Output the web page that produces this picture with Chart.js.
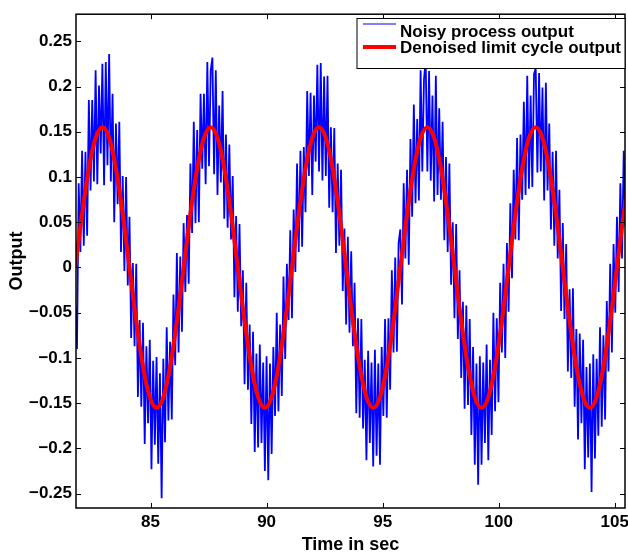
<!DOCTYPE html>
<html lang="en">
<head>
    <meta charset="UTF-8">
    <title>Noisy process output vs denoised limit cycle</title>
    <script src="https://cdn.jsdelivr.net/npm/chart.js"></script>
    <style>
        body {
            margin: 0;
            background: white;
        }
        canvas {
            display: block;
        }
    </style>
</head>
<body>
    <canvas id="cycleChart" width="628" height="558"></canvas>

    <script>
        // sampling grid (seconds)
        const noisyStart = 81.76;
        const noisyStep = 0.072917;
        const cycleStart = 81.76;
        const cycleStep = 0.29167;

        // noisy process output, 64 samples per limit cycle
        const noisyOutput = [
            -0.042, -0.090, 0.093, 0.017, 0.129, 0.024, 0.128, 0.035, 0.185, 0.085, 0.185, 0.095, 0.218, 0.092, 0.201, 0.126,
            0.225, 0.091, 0.227, 0.113, 0.236, 0.095, 0.192, 0.050, 0.159, 0.070, 0.161, 0.017, 0.101, -0.004, 0.100, -0.020,
            0.056, -0.078, 0.005, -0.087, 0.004, -0.143, -0.058, -0.154, -0.061, -0.195, -0.087, -0.172, -0.080, -0.223, -0.103, -0.196,
            -0.099, -0.217, -0.117, -0.255, -0.101, -0.193, -0.066, -0.169, -0.082, -0.168, -0.030, -0.108, 0.016, -0.094, 0.012, -0.071,

            0.049, -0.027, 0.058, -0.018, 0.115, 0.038, 0.161, 0.049, 0.152, 0.050, 0.192, 0.109, 0.192, 0.092, 0.227, 0.112,
            0.218, 0.232, 0.103, 0.218, 0.080, 0.179, 0.094, 0.195, 0.054, 0.147, 0.044, 0.136, 0.031, 0.101, -0.033, 0.057,
            -0.049, 0.048, -0.065, -0.003, -0.129, -0.017, -0.135, -0.063, -0.173, -0.071, -0.204, -0.095, -0.199, -0.085, -0.194, -0.105,
            -0.225, -0.098, -0.235, -0.106, -0.206, -0.088, -0.164, -0.050, -0.159, -0.063, -0.142, -0.010, -0.101, 0.004, -0.058, 0.041,

            -0.056, 0.064, -0.005, 0.115, 0.017, 0.129, 0.023, 0.133, 0.061, 0.195, 0.101, 0.193, 0.080, 0.190, 0.117, 0.224,
            0.106, 0.226, 0.096, 0.211, 0.101, 0.212, 0.066, 0.155, 0.061, 0.154, 0.016, 0.115, 0.024, 0.108, -0.026, 0.043,
            -0.063, 0.034, -0.072, 0.018, -0.087, -0.017, -0.161, -0.056, -0.166, -0.057, -0.178, -0.102, -0.213, -0.092, -0.194, -0.105,
            -0.220, -0.091, -0.208, -0.106, -0.218, -0.088, -0.164, -0.057, -0.166, -0.056, -0.135, -0.003, -0.094, 0.011, -0.093, 0.027,

            0.042, -0.041, 0.093, 0.010, 0.108, 0.003, 0.142, 0.056, 0.180, 0.071, 0.164, 0.074, 0.218, 0.106, 0.208, 0.229,
            0.106, 0.217, 0.096, 0.190, 0.073, 0.212, 0.080, 0.176, 0.075, 0.161, 0.030, 0.122, 0.017, 0.115, -0.019, 0.050,
            -0.056, 0.048, -0.079, -0.003, -0.122, -0.038, -0.156, -0.042, -0.152, -0.057, -0.185, -0.088, -0.218, -0.106, -0.240, -0.098,
            -0.218, -0.105, -0.194, -0.085, -0.213, -0.102, -0.185, -0.050, -0.159, -0.056, -0.149, -0.017, -0.094, 0.004, -0.100, 0.027,

            -0.049, 0.071, -0.012, 0.108, 0.031, 0.143, 0.030, 0.147, 0.075, 0.183, 0.080, 0.212, 0.087, 0.190, 0.089, 0.214,
            0.220, 0.105, 0.215, 0.106, 0.199, 0.074, 0.204, 0.085, 0.159, 0.042, 0.128, 0.024, 0.129, 0.010, 0.086, -0.048,
            0.049, -0.057, 0.026, -0.115, -0.024, -0.122, -0.023, -0.154, -0.068, -0.190, -0.073, -0.172, -0.080, -0.223, -0.110, -0.210,
            -0.106, -0.248, -0.096, -0.211, -0.101, -0.186, -0.066, -0.176, -0.075, -0.168, -0.037, -0.115, 0.004, -0.094, 0.026, -0.050,

            0.056, -0.027, 0.093, 0.010, 0.129, 0.045, 0.142
        ];

        // denoised limit cycle output
        const cycleOutput = [
            0, 0.0593, 0.1096, 0.1432, 0.155, 0.1432, 0.1096, 0.0593, 0, -0.0593, -0.1096, -0.1432, -0.155, -0.1432, -0.1096, -0.0593,
            0, 0.0593, 0.1096, 0.1432, 0.155, 0.1432, 0.1096, 0.0593, 0, -0.0593, -0.1096, -0.1432, -0.155, -0.1432, -0.1096, -0.0593,
            0, 0.0593, 0.1096, 0.1432, 0.155, 0.1432, 0.1096, 0.0593, 0, -0.0593, -0.1096, -0.1432, -0.155, -0.1432, -0.1096, -0.0593,
            0, 0.0593, 0.1096, 0.1432, 0.155, 0.1432, 0.1096, 0.0593, 0, -0.0593, -0.1096, -0.1432, -0.155, -0.1432, -0.1096, -0.0593,
            0, 0.0593, 0.1096, 0.1432, 0.155, 0.1432, 0.1096, 0.0593, 0, -0.0593, -0.1096, -0.1432, -0.155, -0.1432, -0.1096, -0.0593,
            0, 0.0593, 0.1096
        ];

        const xTicks = [85, 90, 95, 100, 105];
        const yTicks = [-0.25, -0.2, -0.15, -0.1, -0.05, 0, 0.05, 0.1, 0.15, 0.2, 0.25];
        const yTickLabels = ["\u22120.25", "\u22120.2", "\u22120.15", "\u22120.1", "\u22120.05", "0", "0.05", "0.1", "0.15", "0.2", "0.25"];

        const FONT = '"Liberation Sans", Arial, Helvetica, sans-serif';

        // box around the axes, inward ticks and the legend, matlab style
        const frame = {
            id: "frame",
            afterDatasetsDraw(chart) {
                const { ctx, chartArea: a, scales } = chart;
                ctx.save();
                ctx.strokeStyle = "#000";
                ctx.lineWidth = 1;
                ctx.beginPath();
                xTicks.forEach(v => {
                    const px = Math.round(scales.x.getPixelForValue(v)) + 0.5;
                    ctx.moveTo(px, a.bottom); ctx.lineTo(px, a.bottom - 5);
                    ctx.moveTo(px, a.top); ctx.lineTo(px, a.top + 5);
                });
                yTicks.forEach(v => {
                    const py = Math.round(scales.y.getPixelForValue(v)) + 0.5;
                    ctx.moveTo(a.left, py); ctx.lineTo(a.left + 5, py);
                    ctx.moveTo(a.right, py); ctx.lineTo(a.right - 5, py);
                });
                ctx.stroke();
                ctx.lineWidth = 1.5;
                ctx.strokeRect(a.left, a.top, a.right - a.left, a.bottom - a.top);

                // legend
                const bx = 357, by = 18.5, bw = a.right - 357, bh = 50;
                ctx.fillStyle = "#fff";
                ctx.fillRect(bx, by, bw, bh);
                ctx.lineWidth = 1;
                ctx.strokeRect(bx, by, bw, bh);
                const rows = [
                    { ds: chart.data.datasets[0], lineY: 24, lineW: 1, textY: 37 },
                    { ds: chart.data.datasets[1], lineY: 47, lineW: 4, textY: 53 }
                ];
                ctx.font = "bold 17px " + FONT;
                ctx.textBaseline = "alphabetic";
                rows.forEach(r => {
                    ctx.strokeStyle = r.ds.borderColor;
                    ctx.lineWidth = r.lineW;
                    ctx.beginPath();
                    ctx.moveTo(363, r.lineY);
                    ctx.lineTo(396, r.lineY);
                    ctx.stroke();
                    ctx.fillStyle = "#000";
                    ctx.fillText(r.ds.label, 400, r.textY);
                });
                ctx.restore();
            }
        };

        const ctx = document.getElementById("cycleChart").getContext("2d");

        const chart = new Chart(ctx, {
            type: "line",
            data: {
                datasets: [
                    {
                        label: "Noisy process output",
                        data: noisyOutput.map((v, i) => ({ x: noisyStart + i * noisyStep, y: v })),
                        borderColor: "#0000ff",
                        borderWidth: 1.8,
                        pointRadius: 0,
                        tension: 0,
                        order: 2
                    },
                    {
                        label: "Denoised limit cycle output",
                        data: cycleOutput.map((v, i) => ({ x: cycleStart + i * cycleStep, y: v })),
                        borderColor: "#ff0000",
                        borderWidth: 4,
                        pointRadius: 0,
                        cubicInterpolationMode: "monotone",
                        order: 1
                    }
                ]
            },
            options: {
                responsive: false,
                animation: false,
                devicePixelRatio: 1,
                layout: { padding: { top: 10, right: 3, left: 0, bottom: 0 } },
                plugins: {
                    legend: { display: false },
                    tooltip: { enabled: false }
                },
                scales: {
                    x: {
                        type: "linear",
                        min: 81.79,
                        max: 105.44,
                        grid: { display: false, drawTicks: false },
                        border: { display: false },
                        afterBuildTicks: s => { s.ticks = xTicks.map(v => ({ value: v })); },
                        afterFit: s => { s.height = 50; s.paddingLeft = 0; s.paddingRight = 0; },
                        ticks: {
                            color: "#000",
                            padding: 4,
                            maxRotation: 0,
                            font: { family: FONT, size: 17, weight: "bold" }
                        },
                        title: {
                            display: true,
                            text: "Time in sec",
                            color: "#000",
                            padding: { top: 0, bottom: 2 },
                            font: { family: FONT, size: 18, weight: "bold" }
                        }
                    },
                    y: {
                        min: -0.2658,
                        max: 0.2799,
                        grid: { display: false, drawTicks: false },
                        border: { display: false },
                        afterBuildTicks: s => { s.ticks = yTicks.map(v => ({ value: v })); },
                        afterFit: s => { s.width = 76; },
                        ticks: {
                            color: "#000",
                            padding: 4,
                            font: { family: FONT, size: 17, weight: "bold" },
                            callback: (v, i) => yTickLabels[i]
                        },
                        title: {
                            display: true,
                            text: "Output",
                            color: "#000",
                            padding: { top: 6, bottom: 0 },
                            font: { family: FONT, size: 18, weight: "bold" }
                        }
                    }
                }
            },
            plugins: [frame]
        });
    </script>
</body>
</html>
